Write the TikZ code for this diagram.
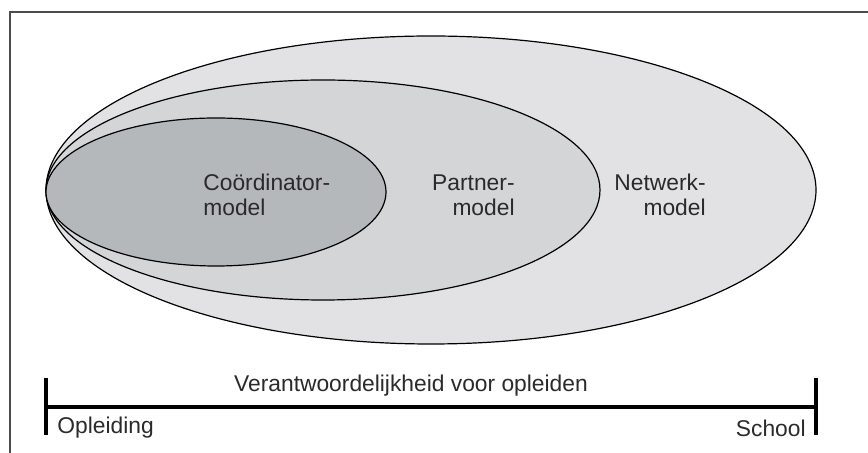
\documentclass[tikz,border=0pt]{standalone}
\usepackage{fontspec}
\setmainfont{Liberation Sans}
\usetikzlibrary{positioning}
\definecolor{netwerkfill}{HTML}{E2E2E4}
\definecolor{partnerfill}{HTML}{D4D5D7}
\definecolor{coordfill}{HTML}{B5B8BA}
\definecolor{tekst}{HTML}{2A2A2A}
\tikzset{
 modelshape/.style={draw=black, line width=0.6pt},
 modeltext/.style={inner sep=0pt, text=tekst,
  font=\fontsize{11.4}{12.5}\selectfont},
 balk/.style={line width=1.7pt, line cap=butt},
 kader/.style={draw=black!70, line width=0.7pt},
 }

\begin{document}
\begin{tikzpicture}[x=0.5pt, y=-0.5pt]
        \useasboundingbox (0,0) rectangle (868,453);
        \draw[kader] (10,453) -- (10,12) -- (868,12);
        % the three models
        \filldraw[modelshape, fill=netwerkfill] (431,190) ellipse [x radius=385, y radius=154];
        \filldraw[modelshape, fill=partnerfill] (323,190) ellipse [x radius=277, y radius=110];
        \filldraw[modelshape, fill=coordfill] (216,192) ellipse [x radius=170, y radius=74];
        \node[modeltext, align=left, anchor=west] (coord) at (203,195) {Coördinator-\\model};
        \node[modeltext, align=right, anchor=east] (partner) at (515,195) {Partner-\\model};
        \node[modeltext, align=right, anchor=east] (netwerk) at (706,195) {Netwerk-\\model};
        % scale
        \coordinate (links) at (46,407);
        \coordinate (rechts) at (816,407);
        \draw[balk] (links) -- (rechts);
        \draw[balk] ([yshift=14.5pt]links) -- ([yshift=-14pt]links);
        \draw[balk] ([yshift=14.5pt]rechts) -- ([yshift=-14pt]rechts);
        \node[modeltext] (verantw) at (411,386) {Verantwoordelijkheid voor opleiden};
        \node[modeltext, anchor=west] (opleiding) at (57,428) {Opleiding};
        \node[modeltext, anchor=east] (school) at (806,428) {School};
    \end{tikzpicture}
\end{document}
